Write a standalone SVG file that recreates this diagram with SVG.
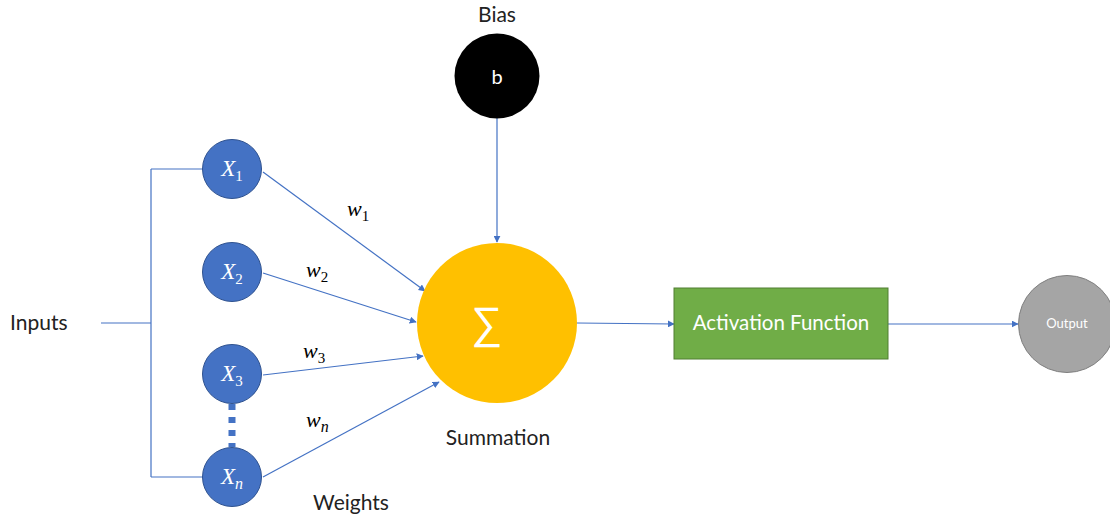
<svg xmlns="http://www.w3.org/2000/svg" width="1110" height="518" viewBox="0 0 1110 518">
  <defs>
    <marker id="arrow" viewBox="0 0 10 10" refX="9" refY="5" markerWidth="7" markerHeight="7" orient="auto" markerUnits="userSpaceOnUse">
      <path d="M0,0 L10,5 L0,10 z" fill="#4472C4"/>
    </marker>
    <style>
      .wire { stroke: #4472C4; stroke-width: 1.2; fill: none; }
      .arr { marker-end: url(#arrow); }
      .xnode { fill: #4472C4; stroke: #2F528F; stroke-width: 1; }
      .math { font-family: "Liberation Serif", "DejaVu Serif", serif; font-style: italic; }
      .xlabel { fill: #ffffff; font-size: 23px; }
      .wlabel { fill: #000000; font-size: 22px; }
      .sub { font-size: 15px; font-style: normal; }
      .subi { font-size: 16px; }
      .caption { font-family: "Lato", "Liberation Sans", sans-serif; font-size: 21px; fill: #222222; }
      .white { fill: #ffffff; font-family: "Lato", "Liberation Sans", sans-serif; }
    </style>
  </defs>
  <rect width="1110" height="518" fill="#ffffff"/>

  <!-- connectors -->
  <g id="connectors">
    <path class="wire" d="M101,323 H151 M151,169 V477 M151,169 H203 M151,477 H203"/>
    <line class="wire arr" x1="263" y1="172" x2="425" y2="291"/>
    <line class="wire arr" x1="263" y1="273" x2="416" y2="322"/>
    <line class="wire arr" x1="263" y1="375" x2="423" y2="356"/>
    <line class="wire arr" x1="263" y1="477" x2="439" y2="382"/>
    <line class="wire arr" x1="497" y1="118" x2="497" y2="242"/>
    <line class="wire arr" x1="577" y1="323" x2="674" y2="324"/>
    <line class="wire arr" x1="888" y1="324" x2="1018" y2="324"/>
    <line x1="232" y1="404" x2="232" y2="447" stroke="#4472C4" stroke-width="7" stroke-dasharray="6,7"/>
  </g>

  <!-- input nodes -->
  <g id="x1">
    <circle class="xnode" cx="232" cy="169" r="29.5"/>
    <text class="math xlabel" x="232" y="176" text-anchor="middle">X<tspan class="sub" dy="5">1</tspan></text>
  </g>
  <g id="x2">
    <circle class="xnode" cx="232" cy="272" r="29.5"/>
    <text class="math xlabel" x="232" y="279" text-anchor="middle">X<tspan class="sub" dy="5">2</tspan></text>
  </g>
  <g id="x3">
    <circle class="xnode" cx="232" cy="374" r="29.5"/>
    <text class="math xlabel" x="232" y="381" text-anchor="middle">X<tspan class="sub" dy="5">3</tspan></text>
  </g>
  <g id="xn">
    <circle class="xnode" cx="232" cy="477" r="29.5"/>
    <text class="math xlabel" x="232" y="484" text-anchor="middle">X<tspan class="subi" dy="5">n</tspan></text>
  </g>

  <!-- weight labels -->
  <g id="weights">
    <text class="math wlabel" x="347" y="216">w<tspan class="sub" dy="5">1</tspan></text>
    <text class="math wlabel" x="306" y="277">w<tspan class="sub" dy="5">2</tspan></text>
    <text class="math wlabel" x="303" y="358">w<tspan class="sub" dy="5">3</tspan></text>
    <text class="math wlabel" x="306" y="427">w<tspan class="subi" dy="5">n</tspan></text>
    <text class="caption" x="351" y="510" text-anchor="middle">Weights</text>
  </g>

  <!-- inputs label -->
  <g id="inputs">
    <text class="caption" x="10" y="330">Inputs</text>
  </g>

  <!-- bias -->
  <g id="bias">
    <text class="caption" x="497" y="22" text-anchor="middle">Bias</text>
    <circle cx="497" cy="76" r="42.5" fill="#000000"/>
    <text class="white" x="497" y="84" font-size="20" text-anchor="middle">b</text>
  </g>

  <!-- summation -->
  <g id="summation">
    <circle cx="497" cy="323" r="80" fill="#FFC000"/>
    <text x="487" y="338" font-family="DejaVu Sans, sans-serif" font-size="44" font-weight="200" fill="#ffffff" text-anchor="middle">∑</text>
    <text class="caption" x="498" y="445" text-anchor="middle">Summation</text>
  </g>

  <!-- activation -->
  <g id="activation">
    <rect x="674" y="288" width="214" height="71" fill="#70AD47" stroke="#507E32" stroke-width="1"/>
    <text class="white" x="781" y="330" font-size="20.5" text-anchor="middle">Activation Function</text>
  </g>

  <!-- output -->
  <g id="output">
    <circle cx="1067" cy="324" r="48.5" fill="#A5A5A5" stroke="#7F7F7F" stroke-width="1"/>
    <text class="white" x="1067" y="328" font-size="13" text-anchor="middle">Output</text>
  </g>
</svg>
